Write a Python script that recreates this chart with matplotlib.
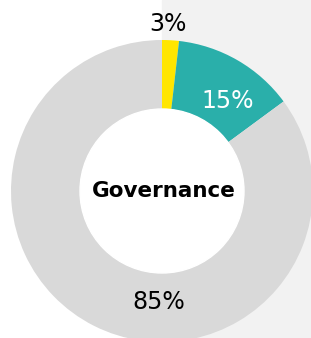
import matplotlib.pyplot as plt
from matplotlib.patches import Rectangle, Circle

# wedge shares as drawn (labels are rounded)
shares = [1.8, 13.1, 85.1]
labels = ['3%', '15%', '85%']
colors = ['#FFE600', '#2AAFAA', '#D9D9D9']
title = 'Governance'

W, H = 311, 338
fig = plt.figure(figsize=(W / 100, H / 100), dpi=100)
ax = fig.add_axes([0, 0, 1, 1])

# light panel on the right half
ax.add_patch(Rectangle((162, 0), W, H, color='#F2F2F2', zorder=0))

cx, cy, r_out, r_in = 162, H - 191, 151, 82
ax.pie(shares, colors=colors, startangle=90, counterclock=False,
       center=(cx, cy), radius=r_out, frame=True,
       wedgeprops=dict(width=r_out - r_in, linewidth=0))
ax.add_patch(Circle((cx, cy), r_in, color='white', zorder=2))
ax.set_xlim(0, W)
ax.set_ylim(0, H)
ax.axis('off')

font = 'DejaVu Sans'
ax.text(168, H - 24, labels[0], ha='center', va='center', fontsize=17, color='black', family=font)
ax.text(228, H - 101, labels[1], ha='center', va='center', fontsize=17, color='white', family=font)
ax.text(159, H - 302, labels[2], ha='center', va='center', fontsize=17, color='black', family=font)
ax.text(164, H - 191, title, ha='center', va='center', fontsize=15.5, fontweight='bold',
        color='black', family=font, zorder=3)

fig.savefig('out.png', dpi=100)
